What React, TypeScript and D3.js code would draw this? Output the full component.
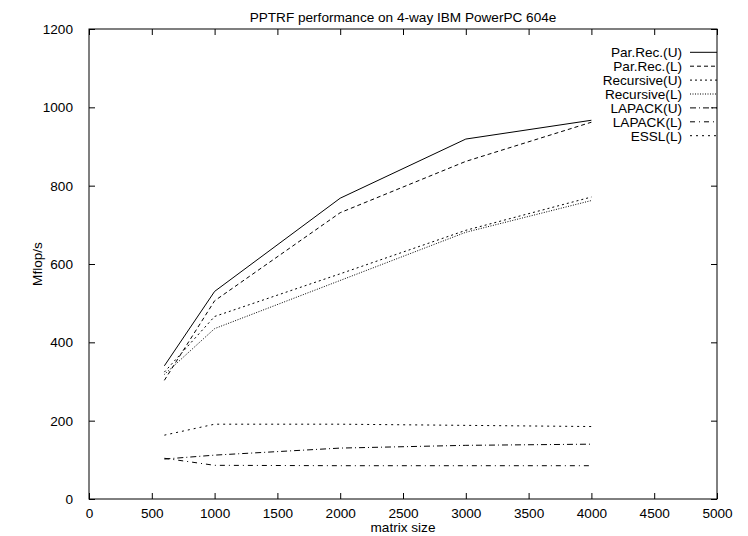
import * as React from "react"
import { select, scaleLinear, line, axisBottom, axisLeft, axisTop, axisRight } from "d3"

const sizes = [600, 1000, 2000, 3000, 4000]
const parRecU = [340, 530, 768, 919, 967]
const parRecL = [303, 506, 731, 862, 962]
const recursiveU = [324, 466, 575, 686, 771]
const recursiveL = [318, 435, 558, 681, 762]
const lapackU = [102, 112, 130, 137, 140]
const lapackL = [104, 86, 85, 85, 85]
const esslL = [163, 191, 191, 188, 185]

const seriesNames = ["Par.Rec.(U)", "Par.Rec.(L)", "Recursive(U)", "Recursive(L)", "LAPACK(U)", "LAPACK(L)", "ESSL(L)"]
const seriesValues = [parRecU, parRecL, recursiveU, recursiveL, lapackU, lapackL, esslL]
const dashes = ["", "4,3", "2,3", "1,1.5", "6,3,1,3", "5,4,1,4", "2,4"]

const xTicks = [0, 500, 1000, 1500, 2000, 2500, 3000, 3500, 4000, 4500, 5000]
const yTicks = [0, 200, 400, 600, 800, 1000, 1200]

export default function App() {
  const svgRef = React.useRef<SVGSVGElement>(null)
  const width = 748
  const height = 536
  const margin = { top: 29, right: 31, bottom: 37, left: 89 }

  React.useEffect(() => {
    const svg = select(svgRef.current)
    svg.selectAll("*").remove()

    const x = scaleLinear().domain([0, 5000]).range([margin.left, width - margin.right])
    const y = scaleLinear().domain([0, 1200]).range([height - margin.bottom, margin.top])

    const font = "'Liberation Sans', Arial, sans-serif"
    const fs = 13.6

    const styleAxis = (g) => {
      g.select(".domain").remove()
      g.selectAll("line").attr("stroke", "#000").attr("stroke-width", 1)
      g.selectAll("text").attr("font-family", font).attr("font-size", fs).attr("fill", "#000")
    }

    svg.append("g")
      .attr("transform", `translate(0,${y(0)})`)
      .call(axisBottom(x).tickValues(xTicks).tickSizeInner(-6).tickSizeOuter(0).tickPadding(9).tickFormat((d) => `${d}`))
      .call(styleAxis)
    svg.append("g")
      .attr("transform", `translate(0,${y(1200)})`)
      .call(axisTop(x).tickValues(xTicks).tickSizeInner(-6).tickSizeOuter(0).tickFormat(() => ""))
      .call(styleAxis)
    svg.append("g")
      .attr("transform", `translate(${x(0)},0)`)
      .call(axisLeft(y).tickValues(yTicks).tickSizeInner(-6).tickSizeOuter(0).tickPadding(16).tickFormat((d) => `${d}`))
      .call(styleAxis)
    svg.append("g")
      .attr("transform", `translate(${x(5000)},0)`)
      .call(axisRight(y).tickValues(yTicks).tickSizeInner(-6).tickSizeOuter(0).tickFormat(() => ""))
      .call(styleAxis)

    svg.append("rect")
      .attr("x", x(0)).attr("y", y(1200))
      .attr("width", x(5000) - x(0)).attr("height", y(0) - y(1200))
      .attr("fill", "none").attr("stroke", "#000").attr("stroke-width", 1)

    const _line = line<number>()
      .x((d, i) => x(sizes[i]))
      .y((d) => y(d))

    seriesValues.forEach((vals, i) => {
      svg.append("path")
        .datum(vals)
        .attr("fill", "none")
        .attr("stroke", "#000")
        .attr("stroke-width", 1)
        .attr("stroke-dasharray", dashes[i])
        .attr("d", _line)
    })

    // legend
    const lg = svg.append("g")
    seriesNames.forEach((name, i) => {
      const cy = 52.3 + i * 13.9
      lg.append("text")
        .attr("x", 682).attr("y", cy + 5)
        .attr("text-anchor", "end")
        .attr("font-family", font).attr("font-size", fs)
        .text(name)
      lg.append("line")
        .attr("x1", 690).attr("x2", 717)
        .attr("y1", cy).attr("y2", cy)
        .attr("stroke", "#000").attr("stroke-width", 1)
        .attr("stroke-dasharray", dashes[i])
    })

    svg.append("text")
      .attr("x", (x(0) + x(5000)) / 2).attr("y", 22)
      .attr("text-anchor", "middle")
      .attr("font-family", font).attr("font-size", fs)
      .text("PPTRF performance on 4-way IBM PowerPC 604e")

    svg.append("text")
      .attr("x", (x(0) + x(5000)) / 2).attr("y", 532)
      .attr("text-anchor", "middle")
      .attr("font-family", font).attr("font-size", fs)
      .text("matrix size")

    svg.append("text")
      .attr("transform", `translate(42,${(y(0) + y(1200)) / 2}) rotate(-90)`)
      .attr("text-anchor", "middle")
      .attr("font-family", font).attr("font-size", fs)
      .text("Mflop/s")
  }, [])

  return (
    <svg
      ref={svgRef}
      width={width}
      height={height}
      style={{ position: "absolute", left: 0, top: 0, background: "#fff" }}
    ></svg>
  )
}
